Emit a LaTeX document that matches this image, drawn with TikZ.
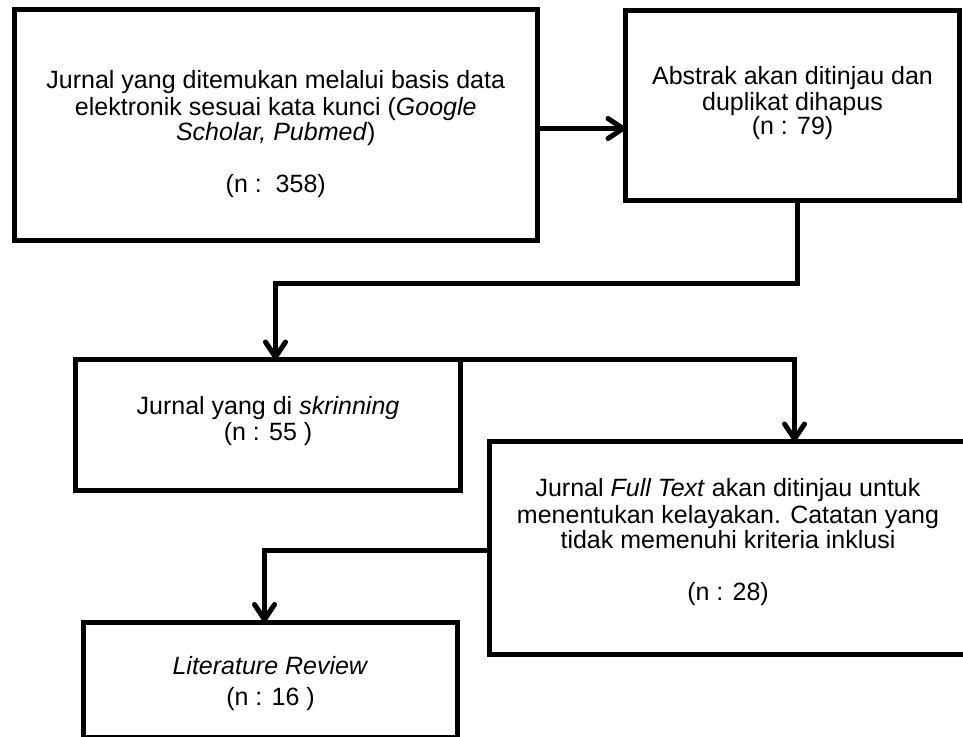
\documentclass[tikz,border=0pt]{standalone}
\usepackage{fontspec}
\setmainfont{Liberation Sans}
\usetikzlibrary{arrows.meta}
\begin{document}
\begin{tikzpicture}[x=1pt,y=-1pt,
  box/.style={draw=black, line width=5pt, rectangle, inner sep=0pt, outer sep=0pt},
  txt/.style={align=center, inner sep=0pt, font=\fontsize{25}{25}\selectfont},
  conn/.style={draw=black, line width=5pt, line join=miter},
  arr/.style={conn, -{Straight Barb[length=15pt,width=20pt,line cap=round,line join=round]}}]
\useasboundingbox (0,0) rectangle (963,736);
% boxes
\node[box, minimum width=523.5, minimum height=230.5] (b1) at (275.75,124.75) {};
\node[box, minimum width=334, minimum height=190] (b2) at (792.5,105.5) {};
\node[box, minimum width=385, minimum height=130.5] (b3) at (268,424.75) {};
\node[box, minimum width=490, minimum height=213, anchor=north west] (b4) at (489.5,441.5) {};
\node[box, minimum width=374.5, minimum height=115] (b5) at (270.25,679.5) {};
% texts
\node[txt] (t1) at (275.75,135) {\strut Jurnal yang ditemukan melalui basis data\\ elektronik sesuai kata kunci (\textit{Google}\\ \textit{Scholar, Pubmed})\\[27pt] (n :\ \ 358)\strut};
\node[txt, font=\fontsize{25}{24}\selectfont] (t2) at (792.5,104) {\strut Abstrak akan ditinjau dan\\ duplikat dihapus\\ (n : 79)\strut};
\node[txt] (t3) at (268,422) {\strut Jurnal yang di \textit{skrinning}\\ (n : 55 )\strut};
\node[txt] (t4) at (728,543) {\strut Jurnal \textit{Full Text} akan ditinjau untuk\\ menentukan kelayakan. Catatan yang\\ tidak memenuhi kriteria inklusi\\[27pt] (n : 28)\strut};
\node[txt, font=\fontsize{25}{31}\selectfont] (t5) at (270.5,684) {\strut\textit{Literature Review}\\ (n : 16 )\strut};
% connector coordinates
\coordinate (y1) at (0,128.5);
\coordinate (c2a) at (797.5,283.5);
\coordinate (c2b) at (275.5,283.5);
\coordinate (c3) at (794.5,359.5);
\coordinate (c4a) at (0,550.5);
\coordinate (c4) at (264.5,550.5);
% connectors
\draw[arr] (b1.east |- y1) -- (b2.west |- y1);
\draw[arr] (b2.south -| c2a) -- (c2a) -- (c2b) -- (b3.north -| c2b);
\draw[arr] (b3.north east) -- (c3) -- (b4.north -| c3);
\draw[arr] (b4.west |- c4a) -- (c4) -- (b5.north -| c4);
\end{tikzpicture}
\end{document}
